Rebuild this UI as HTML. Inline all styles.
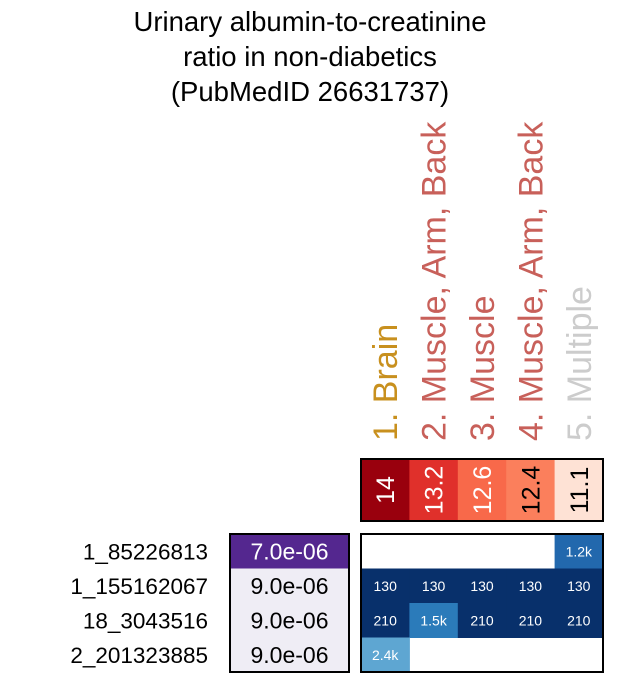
<!DOCTYPE html>
<html><head><meta charset="utf-8"><style>
html,body{margin:0;padding:0;background:#fff;}
svg{display:block;font-family:"Liberation Sans",sans-serif;}
</style></head><body>
<svg id="chart" width="618" height="678" viewBox="0 0 618 678">
<g font-size="27.5" text-anchor="middle" fill="#000">
<text x="310" y="31">Urinary albumin-to-creatinine</text>
<text x="310" y="66">ratio in non-diabetics</text>
<text x="310" y="101">(PubMedID 26631737)</text>
</g>
<g id="cols"></g><g id="topg"></g><g id="rows"></g><g id="pv"></g><g id="main"></g>
</svg>
<script>
const categories = ["1. Brain","2. Muscle, Arm, Back","3. Muscle","4. Muscle, Arm, Back","5. Multiple"];
const categoryColors = ["#c8901e","#c8605a","#c8605a","#c8605a","#cccccc"];
const topValues = [14, 13.2, 12.6, 12.4, 11.1];
const rowLabels = ["1_85226813","1_155162067","18_3043516","2_201323885"];
const pValues = [7.0e-6, 9.0e-6, 9.0e-6, 9.0e-6];
const cellValues = [
  [null,null,null,null,1200],
  [130,130,130,130,130],
  [210,1500,210,210,210],
  [2400,null,null,null,null]
];
const NS="http://www.w3.org/2000/svg";
function mk(tag,attrs,parent){const e=document.createElementNS(NS,tag);for(const k in attrs)e.setAttribute(k,attrs[k]);parent.appendChild(e);return e;}
const X0=361,CW=48.4,TY=459,TH=62,MY=534,RH=34.5;
const colX=i=>X0+i*CW;
const rowY=j=>MY+j*RH;
function redColor(v){if(v>=13.9)return "#99000d";if(v>=13)return "#e0302b";if(v>=12.5)return "#f8694a";if(v>=12)return "#fb7f5c";return "#fee2d5";}
function blueColor(v){if(v<300)return "#08306b";if(v<1300)return "#2268ad";if(v<2000)return "#2b7bba";return "#5ea6d2";}
function fmt(v){return v>=1000?(v/1000).toFixed(1)+"k":String(v);}
const cols=document.getElementById('cols');
categories.forEach((c,i)=>{
 const t=mk('text',{transform:`translate(${colX(i)+CW/2+12},441) rotate(-90)`,'font-size':'34',fill:categoryColors[i]},cols);
 t.textContent=c;
 
 
});
const topG=document.getElementById('topg');
topValues.forEach((v,i)=>{
 const r=mk('rect',{x:colX(i),y:TY,width:CW+0.5,height:TH,fill:redColor(v)},topG);
 
 
 const t=mk('text',{transform:`translate(${colX(i)+CW/2+9},${TY+TH/2}) rotate(-90)`,'font-size':'25','text-anchor':'middle',fill:v>=12.5?'#fff':'#000'},topG);
 t.textContent=String(v);
 
 
});
const tb=mk('rect',{x:X0,y:TY,width:CW*5,height:TH,fill:'none',stroke:'#000','stroke-width':2},topG);


const rows=document.getElementById('rows');
rowLabels.forEach((l,j)=>{
 const t=mk('text',{x:208,y:rowY(j)+RH/2+8,'font-size':'22.5','text-anchor':'end',fill:'#000'},rows);
 t.textContent=l;
 
 
});
const pv=document.getElementById('pv');
const pmin=Math.min(...pValues);
pValues.forEach((p,j)=>{
 const r=mk('rect',{x:230,y:rowY(j),width:119,height:RH+0.5,fill:p<=pmin?'#54278f':'#efedf5'},pv);
 
 
 const t=mk('text',{x:289.5,y:rowY(j)+RH/2+8,'font-size':'23','text-anchor':'middle',fill:p<=pmin?'#fff':'#000'},pv);
 t.textContent=p.toExponential(1).replace('e-','e-0');
 
 
});
const pb=mk('rect',{x:230,y:MY,width:119,height:RH*4,fill:'none',stroke:'#000','stroke-width':2},pv);


const main=document.getElementById('main');
cellValues.forEach((row,j)=>row.forEach((v,i)=>{
 if(v===null)return;
 const r=mk('rect',{x:colX(i),y:rowY(j),width:CW+0.5,height:RH+0.5,fill:blueColor(v)},main);
 
 
 const t=mk('text',{x:colX(i)+CW/2,y:rowY(j)+RH/2+5,'font-size':'14','text-anchor':'middle',fill:'#fff'},main);
 t.textContent=fmt(v);
 
 
}));
const mb=mk('rect',{x:X0,y:MY,width:CW*5,height:RH*4,fill:'none',stroke:'#000','stroke-width':2},main);


</script>
</body></html>
